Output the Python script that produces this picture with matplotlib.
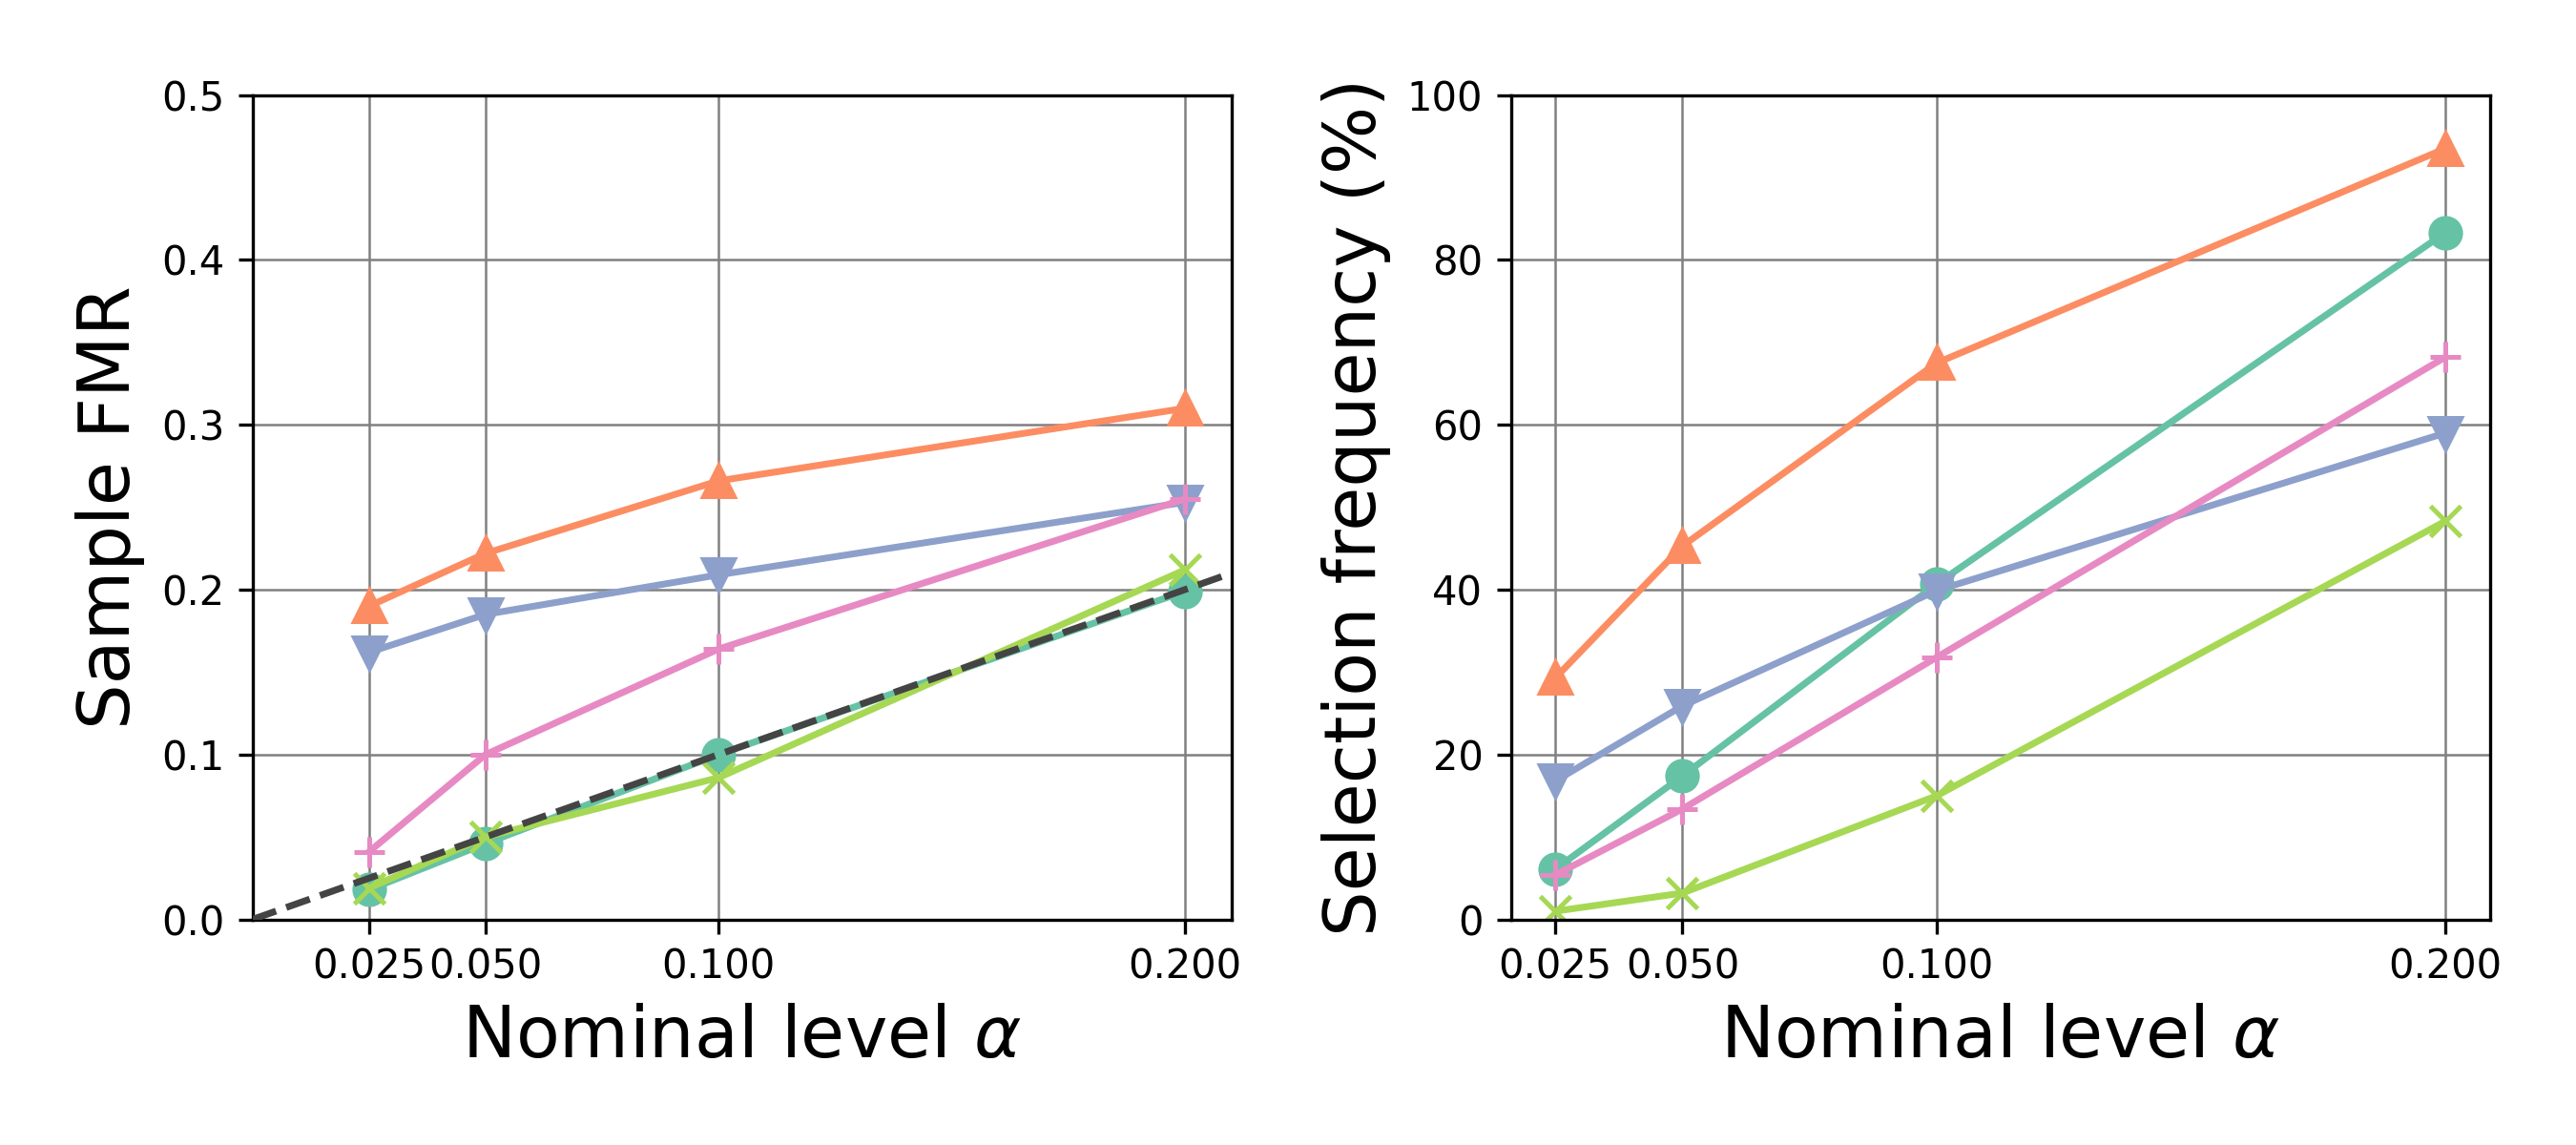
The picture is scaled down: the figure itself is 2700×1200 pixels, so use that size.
import numpy as np
import matplotlib
matplotlib.use("Agg")
import matplotlib.pyplot as plt

### Nominal levels (x axis)
alphas = [0.025, 0.05, 0.1, 0.2]

### Sample FMR per method (left panel)
fmr_circle = [0.018, 0.046, 0.100, 0.199]
fmr_up = [0.190, 0.222, 0.266, 0.310]
fmr_down = [0.162, 0.185, 0.209, 0.253]
fmr_plus = [0.041, 0.100, 0.164, 0.255]
fmr_x = [0.019, 0.050, 0.086, 0.212]

### Selection frequency (%) per method (right panel)
sel_circle = [6.1, 17.4, 40.7, 83.3]
sel_up = [29.3, 45.3, 67.5, 93.5]
sel_down = [16.8, 25.9, 39.9, 59.0]
sel_plus = [5.4, 13.4, 31.8, 68.2]
sel_x = [1.0, 3.2, 15.0, 48.3]

colors = ['#66c2a5', '#fc8d62', '#8da0cb', '#e78ac3', '#a6d854']
markers = ['o', '^', 'v', '+', 'x']

fig = plt.figure(figsize=(9, 4), dpi=300)
ax1 = fig.add_axes([0.098, 0.197, 0.38, 0.72])
ax2 = fig.add_axes([0.5865, 0.197, 0.38, 0.72])

fmr_series = [fmr_circle, fmr_up, fmr_down, fmr_plus, fmr_x]
sel_series = [sel_circle, sel_up, sel_down, sel_plus, sel_x]

for ax, series in ((ax1, fmr_series), (ax2, sel_series)):
    for vals, c, m in zip(series, colors, markers):
        ax.plot(alphas, vals, color=c, marker=m, lw=1.7, ms=7.5, mew=1.2)
    ax.grid(True, color='gray', lw=0.6)
    ax.set_axisbelow(True)
    ax.set_xticks(alphas)
    ax.set_xticklabels(['0.025', '0.050', '0.100', '0.200'])
    ax.tick_params(labelsize=10)
    ax.set_xlabel(r'Nominal level $\alpha$', fontsize=18)

### y = x reference line
ax1.axline((0, 0), slope=1, color='#444444', ls='--', lw=1.7, zorder=5)
ax1.set_xlim(left=0)
ax1.set_ylim(0, 0.5)
ax1.set_yticks(np.arange(0, 0.51, 0.1))
ax1.set_ylabel('Sample FMR', fontsize=18)

ax2.set_ylim(0, 100)
ax2.set_yticks(np.arange(0, 101, 20))
ax2.set_ylabel('Selection frequency (%)', fontsize=18)

plt.savefig('out.png', dpi=300)
